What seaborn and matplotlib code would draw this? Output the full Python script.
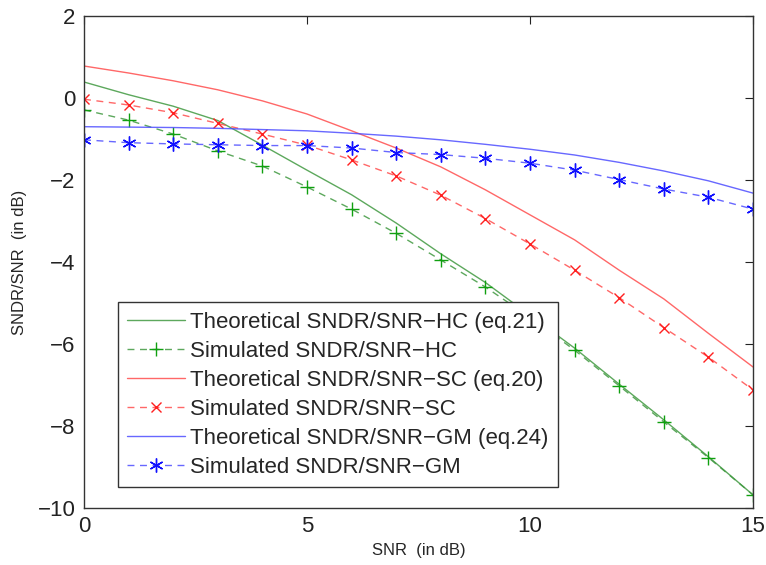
import numpy as np
import pandas as pd
import seaborn as sns
import matplotlib
matplotlib.use("Agg")
import matplotlib.pyplot as plt

snr = list(range(0, 16))

theo_hc = [0.39, 0.08, -0.2, -0.55, -1.15, -1.76, -2.36, -3.05, -3.8, -4.5, -5.3, -6.1, -6.98, -7.85, -8.75, -9.68]
sim_hc = [-0.29, -0.54, -0.88, -1.29, -1.66, -2.17, -2.71, -3.3, -3.95, -4.61, -5.35, -6.15, -7.02, -7.9, -8.77, -9.68]
theo_sc = [0.78, 0.61, 0.42, 0.2, -0.07, -0.39, -0.8, -1.22, -1.68, -2.24, -2.85, -3.46, -4.2, -4.9, -5.74, -6.56]
sim_sc = [-0.03, -0.17, -0.36, -0.62, -0.88, -1.15, -1.51, -1.9, -2.37, -2.94, -3.56, -4.2, -4.87, -5.6, -6.32, -7.12]
theo_gm = [-0.7, -0.71, -0.72, -0.74, -0.77, -0.8, -0.86, -0.93, -1.02, -1.13, -1.25, -1.39, -1.57, -1.78, -2.02, -2.32]
sim_gm = [-1.02, -1.09, -1.12, -1.14, -1.16, -1.16, -1.22, -1.33, -1.38, -1.47, -1.59, -1.76, -1.99, -2.22, -2.42, -2.71]

labels = ["Theoretical SNDR/SNR\u2212HC (eq.21)", "Simulated SNDR/SNR\u2212HC",
          "Theoretical SNDR/SNR\u2212SC (eq.20)", "Simulated SNDR/SNR\u2212SC",
          "Theoretical SNDR/SNR\u2212GM (eq.24)", "Simulated SNDR/SNR\u2212GM"]
xticks = [0, 5, 10, 15]
yticks = [-10, -8, -6, -4, -2, 0, 2]

sns.set_theme(style="white")
plt.rcParams['font.family'] = ['Liberation Sans', 'DejaVu Sans']

fig = plt.figure(figsize=(7.66, 5.65), dpi=100)
ax = fig.add_axes([84/766, 1-508/565, (753-84)/766, (508-16)/565])

line_cols = [(0.25, 0.6, 0.25, 0.85), (1.0, 0.3, 0.3, 0.85), (0.3, 0.3, 1.0, 0.85)]
mark_cols = ['#10a010', '#ff2020', '#1010ff']
markers = ['+', 'x', (6, 2, 0)]
msizes = [10, 7.5, 10]
theos = [theo_hc, theo_sc, theo_gm]
sims = [sim_hc, sim_sc, sim_gm]

for i in range(3):
    sns.lineplot(x=snr, y=theos[i], ax=ax, color=line_cols[i], lw=1.0,
                 label=labels[2*i])
    sns.lineplot(x=snr, y=sims[i], ax=ax, color=line_cols[i], lw=1.0,
                 linestyle=(0, (5, 4)), marker=markers[i], markersize=msizes[i],
                 markeredgecolor=mark_cols[i], markeredgewidth=1.0,
                 label=labels[2*i+1])

ax.set_xlim(0, 15)
ax.set_ylim(-10, 2)
ax.set_xticks(xticks)
ax.set_yticks(yticks)
ax.tick_params(direction='in', length=6, width=0.8, top=True, right=True,
               labelsize=16, colors='#222222', pad=6)
for s in ax.spines.values():
    s.set_color('#333333')
    s.set_linewidth(1.0)
ax.set_xlabel("SNR  (in dB)", fontsize=12, labelpad=4)
ax.set_ylabel("SNDR/SNR  (in dB)", fontsize=12, labelpad=8)

leg = ax.legend(loc='lower left', bbox_to_anchor=(0.051, 0.043), fontsize=16,
                frameon=True, fancybox=False, framealpha=1, edgecolor='#333333',
                labelspacing=0.36, handlelength=2.6, handletextpad=0.22,
                borderpad=0.42, borderaxespad=0)
leg.get_frame().set_linewidth(1.0)

fig.savefig("out.png", dpi=100)
